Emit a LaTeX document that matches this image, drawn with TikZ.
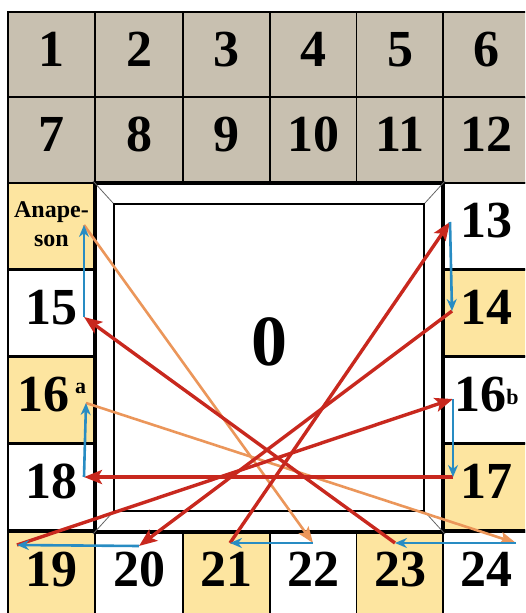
\documentclass[tikz,border=0pt]{standalone}
\usepackage{fontspec}
\setmainfont{Liberation Serif}
\usetikzlibrary{arrows.meta}

\definecolor{greycell}{RGB}{200,192,176}
\definecolor{yellowcell}{RGB}{253,229,160}
\definecolor{flowblue}{RGB}{40,140,195}
\definecolor{flowred}{RGB}{200,40,30}
\definecolor{floworange}{RGB}{235,150,90}

\begin{document}
\begin{tikzpicture}[
        x = 1pt, y = -1pt,
        cell/.style = {draw, line width = 1.8pt, minimum width = 87pt, minimum height = 86pt,
                       inner sep = 0pt, text depth = 12pt, font = \fontsize{52}{52}\selectfont\bfseries},
        greybox/.style = {cell, fill = greycell},
        yellowbox/.style = {cell, fill = yellowcell},
        whitebox/.style = {cell, fill = white},
        bevel/.style = {draw = black!60, line width = 0.8pt},
        blue hop/.style = {draw = flowblue, line width = 2.6pt, -{Stealth[length = 12pt, width = 10pt]}},
        red hop/.style = {draw = flowred, line width = 3.4pt, -{Stealth[length = 18pt, width = 14pt, inset = 4pt]}},
        orange hop/.style = {draw = floworange, line width = 2.6pt, -{Stealth[length = 16pt, width = 12pt, inset = 3pt]}}
    ]
      \useasboundingbox (0, 0) rectangle (525, 613);
      \fill[white] (0, 0) rectangle (525, 613);
      \clip (0, 0) rectangle (525, 613);

      % top two rows
      \node[greybox] (c1) at (51.5, 55) {1};
      \node[greybox] (c2) at (139, 55) {2};
      \node[greybox] (c3) at (226.5, 55) {3};
      \node[greybox] (c4) at (313.5, 55) {4};
      \node[greybox] (c5) at (400, 55) {5};
      \node[greybox] (c6) at (486.5, 55) {6};
      \node[greybox] (c7) at (51.5, 140) {7};
      \node[greybox] (c8) at (139, 140) {8};
      \node[greybox] (c9) at (226.5, 140) {9};
      \node[greybox] (c10) at (313.5, 140) {10};
      \node[greybox] (c11) at (400, 140) {11};
      \node[greybox] (c12) at (486.5, 140) {12};

      % left column
      \node[yellowbox, align = center, text depth = 3pt, font = \fontsize{24}{29}\selectfont\bfseries]
           (cA) at (51.5, 226) {Anape-\\son};
      \node[whitebox] (c15) at (51.5, 313) {15};
      \node[yellowbox] (c16a) at (51.5, 400) {16\hspace{6pt}\raisebox{18pt}{\fontsize{22}{22}\selectfont a}};
      \node[whitebox] (c18) at (51.5, 487) {18};

      % bottom row
      \node[yellowbox] (c19) at (51.5, 575) {19};
      \node[whitebox] (c20) at (139, 575) {20};
      \node[yellowbox] (c21) at (226.5, 575) {21};
      \node[whitebox] (c22) at (313.5, 575) {22};
      \node[yellowbox] (c23) at (400, 575) {23};
      \node[whitebox] (c24) at (486.5, 575) {24};

      % right column
      \node[whitebox] (c13) at (486.5, 226) {13};
      \node[yellowbox] (c14) at (486.5, 313) {14};
      \node[whitebox] (c16b) at (486.5, 400) {16\raisebox{7pt}{\fontsize{22}{22}\selectfont b}};
      \node[yellowbox] (c17) at (486.5, 487) {17};
      \draw[line width = 3pt] (c19.north west) -- (c24.north east);

      % middle square with its frame
      \node[draw, line width = 4pt, fill = white, minimum width = 348pt, minimum height = 349pt,
            inner sep = 0pt] (board) at (269, 357.5) {};
      \node[draw, line width = 1.6pt, minimum width = 310pt, minimum height = 307pt,
            inner sep = 0pt] (inner) at (board.center) {};
      \draw[bevel] (board.north west) -- (inner.north west);
      \draw[bevel] (board.north east) -- (inner.north east);
      \draw[bevel] (board.south west) -- (inner.south west);
      \draw[bevel] (board.south east) -- (inner.south east);
      \node[font = \fontsize{72}{72}\selectfont\bfseries] (zero) at ([yshift = 15.5pt]board.center) {0};

      % where the moves touch each cell
      \coordinate (pA) at (84, 225);
      \coordinate (p15) at (84, 317);
      \coordinate (p16a) at (86, 403);
      \coordinate (p18) at (84, 477);
      \coordinate (p19) at (17, 545);
      \coordinate (p20) at (139, 546);
      \coordinate (p21) at (230, 543);
      \coordinate (p22) at (313, 543);
      \coordinate (p23) at (395, 543);
      \coordinate (p24) at (516, 543);
      \coordinate (p13) at (450, 222);
      \coordinate (p14) at (452, 311);
      \coordinate (p16b) at (453, 399);
      \coordinate (p17) at (453, 477);

      \draw[orange hop] (pA) -- (p22);
      \draw[orange hop] (p16a) -- (p24);
      \draw[red hop] (p23) -- (p15);
      \draw[red hop] (p14) -- (p20);
      \draw[red hop] (p21) -- (p13);
      \draw[red hop] (p19) -- (p16b);
      \draw[red hop] (p17) -- (p18);
      \draw[blue hop] (p15) -- (pA);
      \draw[blue hop] (p18) -- (p16a);
      \draw[blue hop] (p13) -- (p14);
      \draw[blue hop] (p16b) -- (p17);
      \draw[blue hop] (p20) -- (p19);
      \draw[blue hop] (p22) -- (p21);
      \draw[blue hop] (p24) -- (p23);
\end{tikzpicture}
\end{document}
